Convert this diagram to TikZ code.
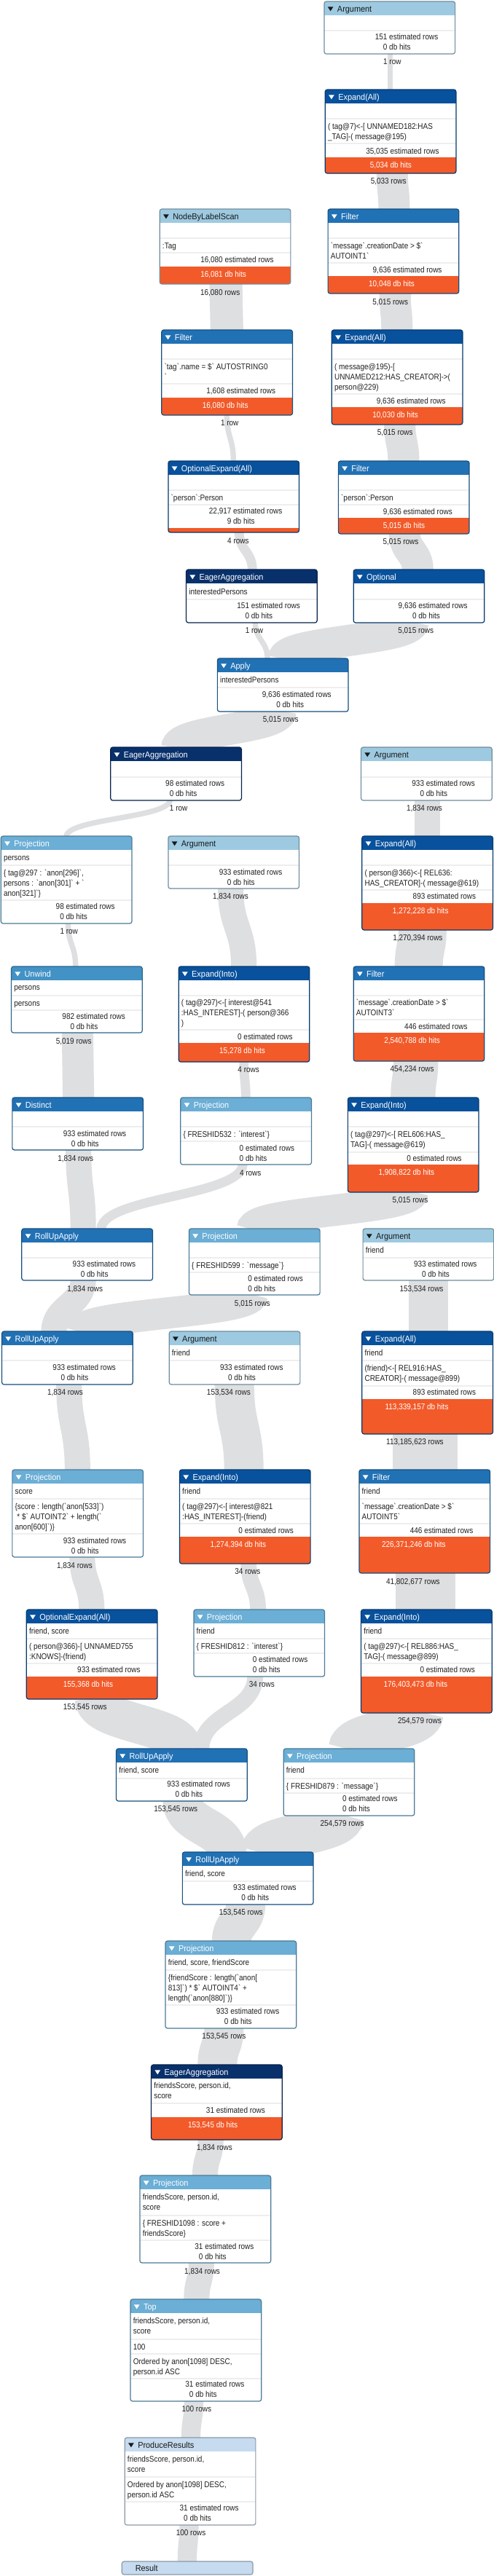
\documentclass[tikz,border=0pt]{standalone}
\usepackage{fontspec}
\setmainfont{Liberation Sans}[FakeStretch=0.88,Ligatures=TeXOff]
\newfontfamily\hdfont{Liberation Sans}[FakeStretch=0.93,Ligatures=TeXOff]
\usetikzlibrary{calc}
\pgfdeclarelayer{bg}
\pgfsetlayers{bg,main}
\definecolor{cArg}{HTML}{9ECAE1}
\definecolor{cRes}{HTML}{C6DBEF}
\definecolor{cPrj}{HTML}{6BAED6}
\definecolor{cUnw}{HTML}{4292C6}
\definecolor{cFlt}{HTML}{2171B5}
\definecolor{cExp}{HTML}{08519C}
\definecolor{cEag}{HTML}{08306B}
\definecolor{cHit}{HTML}{F25A29}
\definecolor{cBand}{HTML}{DEDFE1}
\definecolor{cSep}{HTML}{EEEEEE}
\definecolor{cTxt}{HTML}{222222}
\colorlet{tcArg}{black!90}
\colorlet{tcRes}{black!90}
\colorlet{tcPrj}{white}
\colorlet{tcUnw}{white}
\colorlet{tcFlt}{white}
\colorlet{tcExp}{white}
\colorlet{tcEag}{white}
\newcommand\fsz{\fontsize{8.5}{10.5}\selectfont}
\newcommand\fhd{\hdfont\fontsize{8.8}{11}\selectfont}
\tikzset{
  opbox/.style={rectangle, rounded corners=2.2pt, inner sep=0pt, outer sep=0pt,
    minimum width=134.75pt, line width=0.9pt},
  rt/.style={anchor=base west, inner sep=0pt, font=\fsz, text=cTxt},
  ttl/.style={anchor=base west, inner sep=0pt, font=\fhd},
  lbl/.style={anchor=base, inner sep=0pt, font=\fsz, text=cTxt},
}
% box: name, x, ytop, ybottom, type, title, content
\newcommand\OP[7]{%
  \def\bx{#2}%
  \begin{scope}
    \clip[rounded corners=2.2pt] (#2,#3) rectangle (#2+138.5,#4);
    \fill[white] (#2,#3) rectangle (#2+138.5,#4);
    \fill[c#5] (#2,#3) rectangle (#2+138.5,#3+18.5);
    #7
  \end{scope}
  \pgfmathsetmacro\bh{(#4-#3)*0.75}%
  \node[opbox, draw=c#5!70!black, minimum height=\bh pt, anchor=north west] (#1) at (#2,#3) {};
  \fill[tc#5] (#2+3.7,#3+7.3) -- (#2+9.7,#3+7.3) -- (#2+6.7,#3+13.3) -- cycle;
  \node[ttl, text=tc#5] at (#2+13.7,#3+14.3) {#6};
}
\newcommand\SEP[1]{\draw[cSep, line width=1pt] (\bx,#1) -- (\bx+138.5,#1);}
\newcommand\TA[2]{\node[rt] at (\bx+2.7,#1+4.1) {#2};}
\newcommand\TB[3]{\node[rt] at (\bx+2.7,#1-2.9) {#2};\node[rt] at (\bx+2.7,#1+11.1) {#3};}
\newcommand\TC[4]{\node[rt] at (\bx+2.7,#1-9.9) {#2};\node[rt] at (\bx+2.7,#1+4.1) {#3};\node[rt] at (\bx+2.7,#1+18.1) {#4};}
\newcommand\EST[2]{\node[rt] at (\bx+66.5,#1+4.1) {\llap{#2} estimated rows};}
\newcommand\HIT[2]{\node[rt] at (\bx+66.5,#1+4.1) {\llap{#2} db hits};}
\newcommand\OH[3]{\fill[cHit] (\bx,#1) rectangle (\bx+140,#2+5);
  \node[rt, text=white] at (\bx+66.5,#1+14.1) {\llap{#3} db hits};}
\newcommand\LBL[4]{\node[lbl] (#1) at (#2,#3+4.1) {#4};}
% band: from node, dx, to node, dx, width
\newcommand\BAND[5]{%
  \draw[cBand, line width=#5] let \p1=($(#1.south west)+(#2,-1)$), \p2=($(#3.north west)+(#4,1)$) in
    (\p1) .. controls (\x1,{0.5*(\y1+\y2)}) and (\x2,{0.5*(\y1+\y2)}) .. (\p2);}

\begin{document}
\begin{tikzpicture}[x=0.97289pt,y=-0.75pt]
\useasboundingbox (0,0) rectangle (522.67,3537);
\begin{pgfonlayer}{bg}
\fill[white] (0,0) rectangle (522.67,3537);
\end{pgfonlayer}

\OP{arg1}{343}{2}{74}{Arg}{Argument}{\SEP{42}\EST{50}{151}\HIT{64}{0}}
\OP{exp1}{344}{123}{238}{Exp}{Expand(All)}{\SEP{163}\TB{180}{( tag@7)<-[ UNNAMED182:HAS}{\_TAG]-( message@195)}\SEP{197}\EST{207}{35,035}\OH{216}{238}{5,034}}
\OP{nbls}{169}{287}{390}{Arg}{NodeByLabelScan}{\SEP{327}\TA{337}{:Tag}\SEP{347}\EST{356}{16,080}\OH{366}{390}{16,081}}
\OP{filt1}{347}{287}{403}{Flt}{Filter}{\SEP{327}\TB{344}{`message`.creationDate > \$`}{AUTOINT1`}\SEP{361}\EST{370}{9,636}\OH{379}{403}{10,048}}
\OP{filt2}{171}{453}{570}{Flt}{Filter}{\SEP{493}\TB{510}{`tag`.name = \$` AUTOSTRING0}{`}\SEP{527}\EST{536}{1,608}\OH{546}{570}{16,080}}
\OP{exp2}{351}{453}{583}{Exp}{Expand(All)}{\SEP{493}\TC{517}{( message@195)-[}{UNNAMED212:HAS\_CREATOR]->(}{person@229)}\SEP{541}\EST{550}{9,636}\OH{559}{583}{10,030}}
\OP{oexp1}{178}{633}{731}{Exp}{OptionalExpand(All)}{\SEP{673}\TA{683}{`person`:Person}\SEP{693}\EST{701}{22,917}\HIT{715}{9}\fill[cHit] (\bx,725) rectangle (\bx+140,740);}
\OP{filt3}{358}{633}{733}{Flt}{Filter}{\SEP{673}\TA{683}{`person`:Person}\SEP{693}\EST{702}{9,636}\OH{711}{733}{5,015}}
\OP{eag1}{197}{782}{855}{Eag}{EagerAggregation}{\TA{812}{interestedPersons}\SEP{823}\EST{831}{151}\HIT{845}{0}}
\OP{opt}{374}{782}{855}{Exp}{Optional}{\SEP{823}\EST{831}{9,636}\HIT{845}{0}}
\OP{apply}{230}{904}{977}{Flt}{Apply}{\TA{933}{interestedPersons}\SEP{944}\EST{953}{9,636}\HIT{967}{0}}
\OP{eag2}{117}{1026}{1099}{Eag}{EagerAggregation}{\SEP{1067}\EST{1075}{98}\HIT{1089}{0}}
\OP{arg2}{382}{1026}{1099}{Arg}{Argument}{\SEP{1067}\EST{1075}{933}\HIT{1089}{0}}
\OP{proj1}{1}{1148}{1268}{Prj}{Projection}{\TA{1177}{persons}\SEP{1188}\TC{1212}{\{ tag@297 : `anon[296]`,}{persons : `anon[301]` + `}{anon[321]`\}}\SEP{1236}\EST{1244}{98}\HIT{1258}{0}}
\OP{arg3}{178}{1148}{1220}{Arg}{Argument}{\SEP{1188}\EST{1197}{933}\HIT{1211}{0}}
\OP{exp3}{383}{1148}{1277}{Exp}{Expand(All)}{\SEP{1188}\TB{1205}{( person@366)<-[ REL636:}{HAS\_CREATOR]-( message@619)}\SEP{1222}\EST{1230}{893}\OH{1240}{1277}{1,272,228}}
\OP{unw}{12}{1327}{1418}{Unw}{Unwind}{\TA{1355}{persons}\SEP{1367}\TA{1377}{persons}\SEP{1387}\EST{1395}{982}\HIT{1409}{0}}
\OP{expi1}{189}{1327}{1458}{Exp}{Expand(Into)}{\SEP{1367}\TC{1390}{( tag@297)<-[ interest@541}{:HAS\_INTEREST]-( person@366}{)}\SEP{1414}\EST{1423}{0}\OH{1432}{1458}{15,278}}
\OP{filt4}{374}{1327}{1457}{Flt}{Filter}{\SEP{1367}\TB{1383}{`message`.creationDate > \$`}{AUTOINT3`}\SEP{1400}\EST{1409}{446}\OH{1418}{1457}{2,540,788}}
\OP{dist}{13}{1507}{1579}{Flt}{Distinct}{\SEP{1547}\EST{1556}{933}\HIT{1570}{0}}
\OP{proj532}{191}{1507}{1599}{Prj}{Projection}{\SEP{1547}\TA{1557}{\{ FRESHID532 : `interest`\}}\SEP{1567}\EST{1576}{0}\HIT{1590}{0}}
\OP{expi2}{368}{1507}{1637}{Exp}{Expand(Into)}{\SEP{1547}\TB{1564}{( tag@297)<-[ REL606:HAS\_}{TAG]-( message@619)}\SEP{1582}\EST{1590}{0}\OH{1599}{1637}{1,908,822}}
\OP{rua1}{23}{1687}{1758}{Flt}{RollUpApply}{\SEP{1727}\EST{1735}{933}\HIT{1749}{0}}
\OP{proj599}{200}{1687}{1778}{Prj}{Projection}{\SEP{1727}\TA{1737}{\{ FRESHID599 : `message`\}}\SEP{1747}\EST{1755}{0}\HIT{1769}{0}}
\OP{arg4}{384}{1687}{1758}{Arg}{Argument}{\TA{1716}{friend}\SEP{1727}\EST{1735}{933}\HIT{1749}{0}}
\OP{rua2}{2}{1828}{1901}{Flt}{RollUpApply}{\SEP{1868}\EST{1877}{933}\HIT{1891}{0}}
\OP{arg5}{179}{1828}{1901}{Arg}{Argument}{\TA{1857}{friend}\SEP{1868}\EST{1877}{933}\HIT{1891}{0}}
\OP{exp4}{383}{1828}{1969}{Exp}{Expand(All)}{\TA{1857}{friend}\SEP{1868}\TB{1885}{(friend)<-[ REL916:HAS\_}{CREATOR]-( message@899)}\SEP{1903}\EST{1911}{893}\OH{1921}{1969}{113,339,157}}
\OP{projs}{13}{2018}{2138}{Prj}{Projection}{\TA{2047}{score}\SEP{2058}\TC{2082}{\{score : length(`anon[533]`)}{\ * \$` AUTOINT2` + length(`}{anon[600]`)\}}\SEP{2106}\EST{2115}{933}\HIT{2129}{0}}
\OP{expi3}{190}{2018}{2147}{Exp}{Expand(Into)}{\TA{2047}{friend}\SEP{2058}\TB{2075}{( tag@297)<-[ interest@821}{:HAS\_INTEREST]-(friend)}\SEP{2092}\EST{2101}{0}\OH{2110}{2147}{1,274,394}}
\OP{filt5}{380}{2018}{2160}{Flt}{Filter}{\TA{2047}{friend}\SEP{2058}\TB{2075}{`message`.creationDate > \$`}{AUTOINT5`}\SEP{2092}\EST{2101}{446}\OH{2110}{2160}{226,371,246}}
\OP{oexp2}{28}{2210}{2333}{Exp}{OptionalExpand(All)}{\TA{2239}{friend, score}\SEP{2250}\TB{2267}{( person@366)-[ UNNAMED755}{:KNOWS]-(friend)}\SEP{2284}\EST{2292}{933}\OH{2302}{2333}{155,368}}
\OP{proj812}{205}{2210}{2302}{Prj}{Projection}{\TA{2239}{friend}\SEP{2250}\TA{2260}{\{ FRESHID812 : `interest`\}}\SEP{2270}\EST{2278}{0}\HIT{2292}{0}}
\OP{expi4}{382}{2210}{2352}{Exp}{Expand(Into)}{\TA{2239}{friend}\SEP{2250}\TB{2267}{( tag@297)<-[ REL886:HAS\_}{TAG]-( message@899)}\SEP{2284}\EST{2292}{0}\OH{2302}{2352}{176,403,473}}
\OP{rua3}{123}{2401}{2473}{Flt}{RollUpApply}{\TA{2430}{friend, score}\SEP{2442}\EST{2449}{933}\HIT{2463}{0}}
\OP{proj879}{300}{2401}{2493}{Prj}{Projection}{\TA{2430}{friend}\SEP{2442}\TA{2452}{\{ FRESHID879 : `message`\}}\SEP{2462}\EST{2469}{0}\HIT{2483}{0}}
\OP{rua4}{193}{2543}{2615}{Flt}{RollUpApply}{\TA{2572}{friend, score}\SEP{2583}\EST{2591}{933}\HIT{2605}{0}}
\OP{projfs}{175}{2665}{2785}{Prj}{Projection}{\TA{2694}{friend, score, friendScore}\SEP{2705}\TC{2729}{\{friendScore : length(`anon[}{813]`) * \$` AUTOINT4` +}{length(`anon[880]`)\}}\SEP{2753}\EST{2761}{933}\HIT{2775}{0}}
\OP{eag3}{160}{2835}{2938}{Eag}{EagerAggregation}{\TB{2870}{friendsScore, person.id,}{score}\SEP{2888}\EST{2897}{31}\OH{2907}{2938}{153,545}}
\OP{proj1098}{148}{2987}{3107}{Prj}{Projection}{\TB{3023}{friendsScore, person.id,}{score}\SEP{3042}\TB{3059}{\{ FRESHID1098 : score +}{friendsScore\}}\SEP{3076}\EST{3084}{31}\HIT{3098}{0}}
\OP{topn}{138}{3157}{3297}{Prj}{Top}{\TB{3193}{friendsScore, person.id,}{score}\SEP{3212}\TA{3222}{100}\SEP{3232}\TB{3249}{Ordered by anon[1098] DESC,}{person.id ASC}\SEP{3266}\EST{3273}{31}\HIT{3287}{0}}
\OP{prod}{132}{3347}{3467}{Res}{ProduceResults}{\TB{3383}{friendsScore, person.id,}{score}\SEP{3401}\TB{3418}{Ordered by anon[1098] DESC,}{person.id ASC}\SEP{3435}\EST{3443}{31}\HIT{3457}{0}}
\node[opbox, draw=cRes!70!black, fill=cRes, minimum height=13.5pt, anchor=north west] (result) at (129,3517) {};
\node[ttl, text=black!90] (resulttxt) at (143,3530.3) {Result};

% row labels
\LBL{l1}{415}{84}{1 row}
\LBL{l2}{411}{248}{5,033 rows}
\LBL{l3}{233}{401}{16,080 rows}
\LBL{l4}{413}{414}{5,015 rows}
\LBL{l5}{243}{580}{1 row}
\LBL{l6}{418}{593}{5,015 rows}
\LBL{l7}{252}{742}{4 rows}
\LBL{l8}{424}{743}{5,015 rows}
\LBL{l9}{269}{865}{1 row}
\LBL{l10}{440}{865}{5,015 rows}
\LBL{l11}{297}{987}{5,015 rows}
\LBL{l12}{189}{1109}{1 row}
\LBL{l13}{449}{1109}{1,834 rows}
\LBL{l14}{73}{1278}{1 row}
\LBL{l15}{244}{1230}{1,834 rows}
\LBL{l16}{442}{1287}{1,270,394 rows}
\LBL{l17}{78}{1429}{5,019 rows}
\LBL{l18}{263}{1468}{4 rows}
\LBL{l19}{436}{1467}{454,234 rows}
\LBL{l20}{80}{1590}{1,834 rows}
\LBL{l21}{265}{1610}{4 rows}
\LBL{l22}{434}{1647}{5,015 rows}
\LBL{l23}{90}{1769}{1,834 rows}
\LBL{l24}{267}{1789}{5,015 rows}
\LBL{l25}{446}{1769}{153,534 rows}
\LBL{l26}{69}{1911}{1,834 rows}
\LBL{l27}{242}{1911}{153,534 rows}
\LBL{l28}{439}{1979}{113,185,623 rows}
\LBL{l29}{79}{2149}{1,834 rows}
\LBL{l30}{262}{2157}{34 rows}
\LBL{l31}{437}{2171}{41,802,677 rows}
\LBL{l32}{90}{2343}{153,545 rows}
\LBL{l33}{277}{2312}{34 rows}
\LBL{l34}{444}{2362}{254,579 rows}
\LBL{l35}{186}{2483}{153,545 rows}
\LBL{l36}{362}{2503}{254,579 rows}
\LBL{l37}{255}{2625}{153,545 rows}
\LBL{l38}{237}{2795}{153,545 rows}
\LBL{l39}{227}{2948}{1,834 rows}
\LBL{l40}{214}{3118}{1,834 rows}
\LBL{l41}{208}{3307}{100 rows}
\LBL{l42}{202}{3477}{100 rows}

\begin{pgfonlayer}{bg}
\BAND{arg1}{70}{exp1}{69}{5.5pt}
\BAND{exp1}{71}{filt1}{70}{32.3pt}
\BAND{nbls}{70}{filt2}{69}{33.8pt}
\BAND{filt1}{71}{exp2}{69}{32.3pt}
\BAND{filt2}{69}{oexp1}{69}{5.5pt}
\BAND{exp2}{72}{filt3}{69}{32.3pt}
\BAND{oexp1}{75}{eag1}{70}{9.6pt}
\BAND{filt3}{70}{opt}{68}{32.3pt}
\BAND{eag1}{73}{apply}{53}{5.5pt}
\BAND{opt}{63}{apply}{70}{32.3pt}
\BAND{apply}{67}{eag2}{70}{32.3pt}
\BAND{eag2}{63}{proj1}{69}{5.5pt}
\BAND{arg2}{70}{exp3}{69}{26.3pt}
\BAND{proj1}{71}{unw}{68}{5.5pt}
\BAND{arg3}{66}{expi1}{69}{26.3pt}
\BAND{exp3}{64}{filt4}{69}{49.5pt}
\BAND{unw}{70}{dist}{70}{32.3pt}
\BAND{expi1}{69}{proj532}{69}{9.6pt}
\BAND{filt4}{66}{expi2}{69}{46pt}
\BAND{dist}{70}{rua1}{65}{26.3pt}
\BAND{proj532}{66}{rua1}{84}{9.6pt}
\BAND{expi2}{69}{proj599}{67}{32.3pt}
\BAND{rua1}{65}{rua2}{55}{26.3pt}
\BAND{proj599}{67}{rua2}{83}{32.3pt}
\BAND{arg4}{69}{exp4}{70}{40.5pt}
\BAND{rua2}{71}{projs}{69}{26.3pt}
\BAND{arg5}{69}{expi3}{68}{40.5pt}
\BAND{exp4}{67}{filt5}{70}{66.8pt}
\BAND{projs}{74}{oexp2}{69}{26.3pt}
\BAND{expi3}{73}{proj812}{68}{16.4pt}
\BAND{filt5}{70}{expi4}{68}{61.5pt}
\BAND{oexp2}{72}{rua3}{70}{40.5pt}
\BAND{proj812}{65}{rua3}{90}{16.4pt}
\BAND{expi4}{65}{proj879}{70}{44pt}
\BAND{rua3}{70}{rua4}{47}{40.5pt}
\BAND{proj879}{63}{rua4}{84}{44pt}
\BAND{rua4}{67}{projfs}{70}{40.5pt}
\BAND{projfs}{62}{eag3}{70}{40.5pt}
\BAND{eag3}{63}{proj1098}{69}{26.3pt}
\BAND{proj1098}{65}{topn}{70}{26.3pt}
\BAND{topn}{67}{prod}{70}{19.7pt}
\BAND{prod}{68}{result}{69}{19.7pt}
\end{pgfonlayer}
\end{tikzpicture}
\end{document}
